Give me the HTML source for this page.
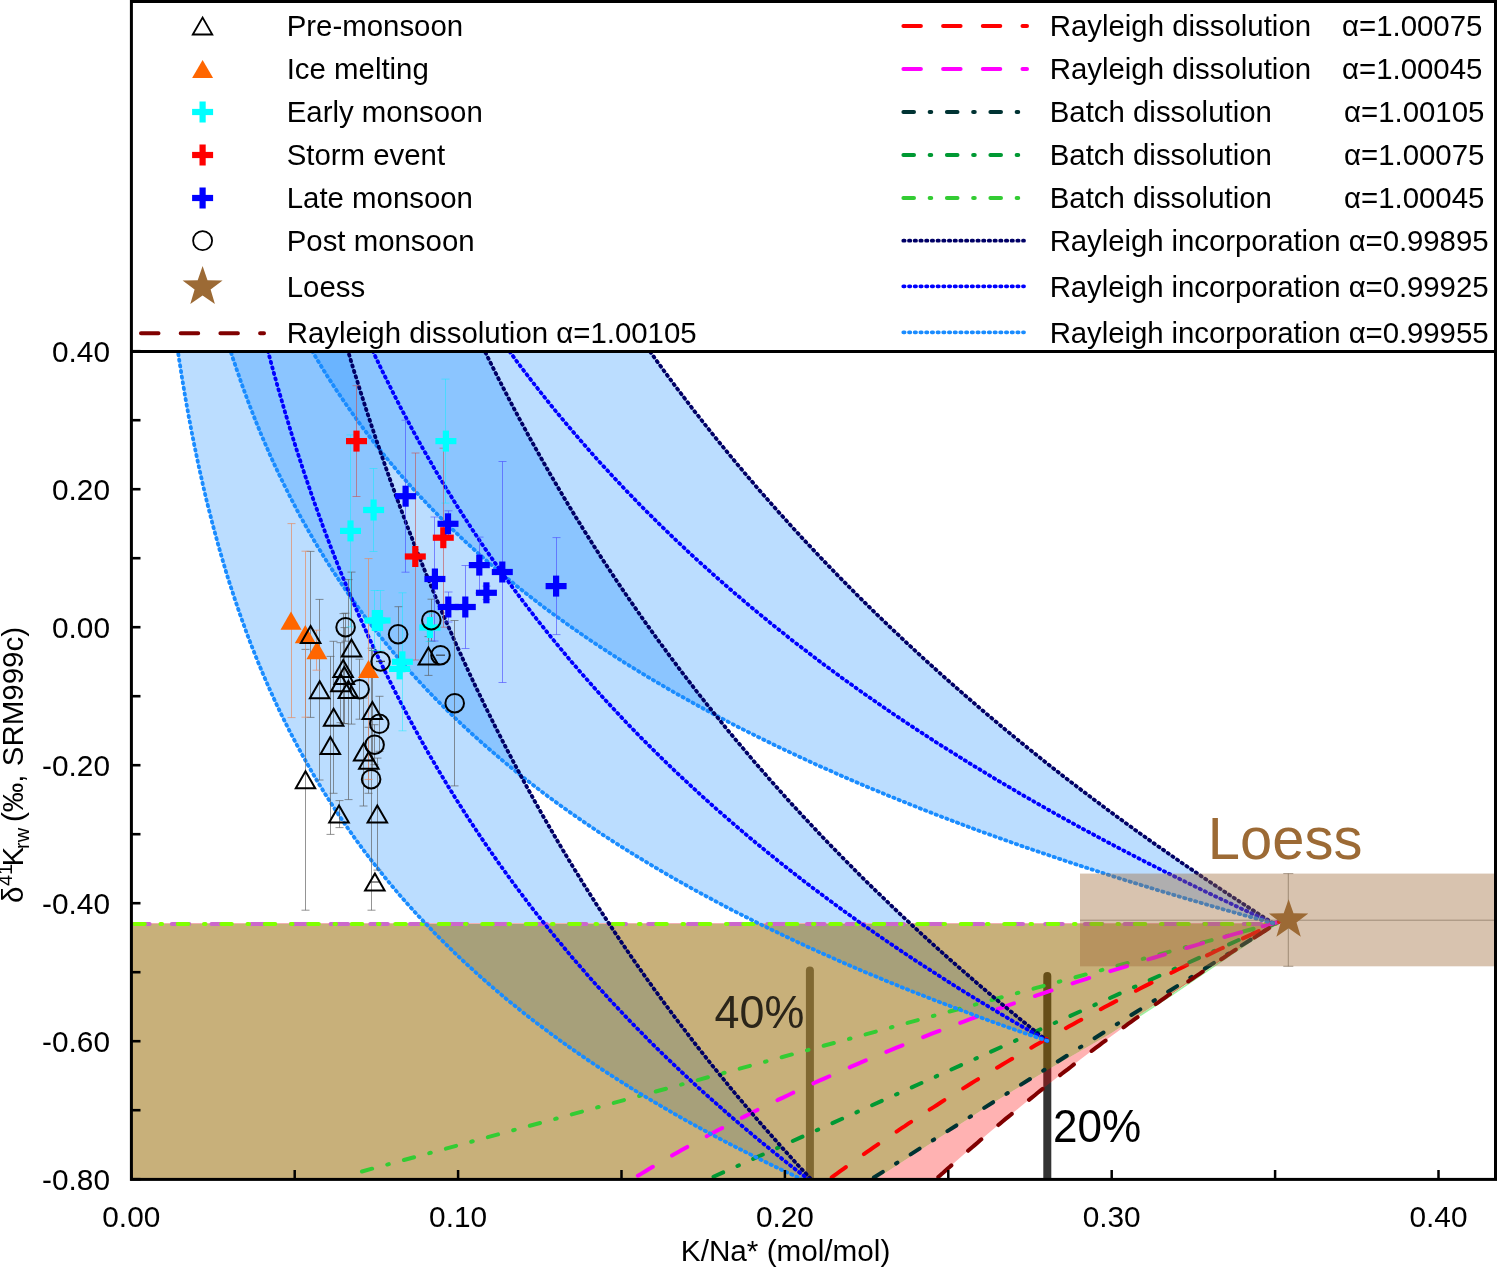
<!DOCTYPE html>
<html><head><meta charset="utf-8"><style>
html,body{margin:0;padding:0;background:#fff;}
body{width:1498px;height:1268px;overflow:hidden;position:relative;font-family:"Liberation Sans",sans-serif;}
svg{position:absolute;left:0;top:0;will-change:transform;}
</style></head><body>
<svg width="1498" height="1268" viewBox="0 0 1498 1268" font-family="Liberation Sans, sans-serif">
<defs><clipPath id="pc"><rect x="131.4" y="351.5" width="1364.1" height="827.9000000000001"/></clipPath></defs>
<rect width="1498" height="1268" fill="#fff"/>
<g clip-path="url(#pc)">
<path d="M1273.1,923.2 L1267.0,919.3 L1261.0,915.5 L1255.0,911.6 L1249.0,907.7 L1243.0,903.8 L1237.1,899.9 L1231.2,896.1 L1225.3,892.2 L1219.5,888.3 L1213.6,884.4 L1207.9,880.6 L1202.1,876.7 L1196.4,872.8 L1190.7,868.9 L1185.1,865.1 L1179.4,861.2 L1173.9,857.3 L1168.3,853.4 L1162.8,849.5 L1157.2,845.7 L1151.8,841.8 L1146.3,837.9 L1140.9,834.0 L1135.5,830.2 L1130.2,826.3 L1124.8,822.4 L1119.5,818.5 L1114.3,814.7 L1109.0,810.8 L1103.8,806.9 L1098.6,803.0 L1093.4,799.1 L1088.3,795.3 L1083.2,791.4 L1078.1,787.5 L1073.1,783.6 L1068.0,779.8 L1063.0,775.9 L1058.1,772.0 L1053.1,768.1 L1048.2,764.3 L1043.3,760.4 L1038.4,756.5 L1033.6,752.6 L1028.8,748.7 L1024.0,744.9 L1019.2,741.0 L1014.5,737.1 L1009.8,733.2 L1005.1,729.4 L1000.4,725.5 L995.8,721.6 L991.2,717.7 L986.6,713.9 L982.0,710.0 L977.5,706.1 L973.0,702.2 L968.5,698.3 L964.0,694.5 L959.6,690.6 L955.1,686.7 L950.7,682.8 L946.4,679.0 L942.0,675.1 L937.7,671.2 L933.4,667.3 L929.1,663.5 L924.8,659.6 L920.6,655.7 L916.4,651.8 L912.2,647.9 L908.0,644.1 L903.9,640.2 L899.8,636.3 L895.7,632.4 L891.6,628.6 L887.5,624.7 L883.5,620.8 L879.5,616.9 L875.5,613.1 L871.5,609.2 L867.6,605.3 L863.6,601.4 L859.7,597.5 L855.8,593.7 L852.0,589.8 L848.1,585.9 L844.3,582.0 L840.5,578.2 L836.7,574.3 L833.0,570.4 L829.2,566.5 L825.5,562.7 L821.8,558.8 L818.1,554.9 L814.4,551.0 L810.8,547.1 L807.2,543.3 L803.5,539.4 L800.0,535.5 L796.4,531.6 L792.8,527.8 L789.3,523.9 L785.8,520.0 L782.3,516.1 L778.8,512.3 L775.4,508.4 L771.9,504.5 L768.5,500.6 L765.1,496.7 L761.7,492.9 L758.4,489.0 L755.0,485.1 L751.7,481.2 L748.4,477.4 L745.1,473.5 L741.8,469.6 L738.6,465.7 L735.3,461.9 L732.1,458.0 L728.9,454.1 L725.7,450.2 L722.5,446.3 L719.4,442.5 L716.2,438.6 L713.1,434.7 L710.0,430.8 L706.9,427.0 L703.8,423.1 L700.8,419.2 L697.8,415.3 L694.7,411.5 L691.7,407.6 L688.7,403.7 L685.8,399.8 L682.8,395.9 L679.9,392.1 L676.9,388.2 L674.0,384.3 L671.1,380.4 L668.2,376.6 L665.4,372.7 L662.5,368.8 L659.7,364.9 L656.9,361.1 L654.1,357.2 L651.3,353.3 L648.5,349.4 L645.7,345.5 L643.0,341.7 L640.3,337.8 L637.5,333.9 L634.8,330.0 L632.2,326.2 L629.5,322.3 L626.8,318.4 L624.2,314.5 L621.5,310.7 L618.9,306.8 L616.3,302.9 L286.2,302.9 L288.1,306.8 L290.1,310.7 L292.1,314.5 L294.1,318.4 L296.2,322.3 L298.2,326.2 L300.3,330.0 L302.4,333.9 L304.6,337.8 L306.8,341.7 L309.0,345.5 L311.2,349.4 L313.5,353.3 L315.8,357.2 L318.1,361.1 L320.4,364.9 L322.8,368.8 L325.2,372.7 L327.6,376.6 L330.1,380.4 L332.6,384.3 L335.1,388.2 L337.7,392.1 L340.3,395.9 L342.9,399.8 L345.6,403.7 L348.3,407.6 L351.0,411.5 L353.8,415.3 L356.5,419.2 L359.4,423.1 L362.2,427.0 L365.1,430.8 L368.1,434.7 L371.1,438.6 L374.1,442.5 L377.1,446.3 L380.2,450.2 L383.3,454.1 L386.5,458.0 L389.7,461.9 L393.0,465.7 L396.2,469.6 L399.6,473.5 L402.9,477.4 L406.4,481.2 L409.8,485.1 L413.3,489.0 L416.9,492.9 L420.4,496.7 L424.1,500.6 L427.8,504.5 L431.5,508.4 L435.3,512.3 L439.1,516.1 L442.9,520.0 L446.9,523.9 L450.8,527.8 L454.8,531.6 L458.9,535.5 L463.0,539.4 L467.2,543.3 L471.4,547.1 L475.7,551.0 L480.0,554.9 L484.4,558.8 L488.8,562.7 L493.3,566.5 L497.9,570.4 L502.5,574.3 L507.1,578.2 L511.9,582.0 L516.6,585.9 L521.5,589.8 L526.4,593.7 L531.3,597.5 L536.4,601.4 L541.5,605.3 L546.6,609.2 L551.8,613.1 L557.1,616.9 L562.5,620.8 L567.9,624.7 L573.4,628.6 L578.9,632.4 L584.5,636.3 L590.2,640.2 L596.0,644.1 L601.8,647.9 L607.8,651.8 L613.7,655.7 L619.8,659.6 L625.9,663.5 L632.2,667.3 L638.4,671.2 L644.8,675.1 L651.3,679.0 L657.8,682.8 L664.4,686.7 L671.1,690.6 L677.9,694.5 L684.8,698.3 L691.7,702.2 L698.8,706.1 L705.9,710.0 L713.1,713.9 L720.4,717.7 L727.8,721.6 L735.3,725.5 L742.9,729.4 L750.6,733.2 L758.4,737.1 L766.3,741.0 L774.2,744.9 L782.3,748.7 L790.5,752.6 L798.8,756.5 L807.2,760.4 L815.6,764.3 L824.2,768.1 L833.0,772.0 L841.8,775.9 L850.7,779.8 L859.7,783.6 L868.9,787.5 L878.2,791.4 L887.5,795.3 L897.0,799.1 L906.7,803.0 L916.4,806.9 L926.3,810.8 L936.3,814.7 L946.4,818.5 L956.6,822.4 L967.0,826.3 L977.5,830.2 L988.1,834.0 L998.9,837.9 L1009.8,841.8 L1020.8,845.7 L1032.0,849.5 L1043.3,853.4 L1054.8,857.3 L1066.4,861.2 L1078.1,865.1 L1090.0,868.9 L1102.1,872.8 L1114.3,876.7 L1126.6,880.6 L1139.1,884.4 L1151.8,888.3 L1164.6,892.2 L1177.6,896.1 L1190.7,899.9 L1204.0,903.8 L1217.5,907.7 L1231.2,911.6 L1245.0,915.5 L1259.0,919.3 L1273.1,923.2 Z" fill="rgba(30,144,255,0.30)"/>
<path d="M1047.3,1040.9 L1041.5,1036.3 L1035.7,1031.7 L1030.0,1027.1 L1024.3,1022.5 L1018.6,1017.9 L1013.0,1013.2 L1007.4,1008.6 L1001.8,1004.0 L996.3,999.4 L990.8,994.8 L985.4,990.2 L979.9,985.6 L974.6,981.0 L969.2,976.3 L963.9,971.7 L958.6,967.1 L953.4,962.5 L948.1,957.9 L943.0,953.3 L937.8,948.7 L932.7,944.1 L927.6,939.4 L922.5,934.8 L917.5,930.2 L912.5,925.6 L907.6,921.0 L902.6,916.4 L897.8,911.8 L892.9,907.2 L888.1,902.5 L883.3,897.9 L878.5,893.3 L873.7,888.7 L869.0,884.1 L864.3,879.5 L859.7,874.9 L855.1,870.3 L850.5,865.6 L845.9,861.0 L841.4,856.4 L836.9,851.8 L832.4,847.2 L827.9,842.6 L823.5,838.0 L819.1,833.4 L814.8,828.7 L810.4,824.1 L806.1,819.5 L801.8,814.9 L797.6,810.3 L793.3,805.7 L789.1,801.1 L785.0,796.5 L780.8,791.8 L776.7,787.2 L772.6,782.6 L768.5,778.0 L764.5,773.4 L760.5,768.8 L756.5,764.2 L752.5,759.6 L748.6,754.9 L744.7,750.3 L740.8,745.7 L736.9,741.1 L733.0,736.5 L729.2,731.9 L725.4,727.3 L721.7,722.7 L717.9,718.0 L714.2,713.4 L710.5,708.8 L706.8,704.2 L703.2,699.6 L699.5,695.0 L695.9,690.4 L692.3,685.7 L688.8,681.1 L685.2,676.5 L681.7,671.9 L678.2,667.3 L674.8,662.7 L671.3,658.1 L667.9,653.5 L664.5,648.8 L661.1,644.2 L657.7,639.6 L654.4,635.0 L651.1,630.4 L647.8,625.8 L644.5,621.2 L641.2,616.6 L638.0,611.9 L634.8,607.3 L631.6,602.7 L628.4,598.1 L625.3,593.5 L622.1,588.9 L619.0,584.3 L615.9,579.7 L612.8,575.0 L609.8,570.4 L606.8,565.8 L603.7,561.2 L600.7,556.6 L597.8,552.0 L594.8,547.4 L591.9,542.8 L588.9,538.1 L586.0,533.5 L583.1,528.9 L580.3,524.3 L577.4,519.7 L574.6,515.1 L571.8,510.5 L569.0,505.9 L566.2,501.2 L563.4,496.6 L560.7,492.0 L558.0,487.4 L555.3,482.8 L552.6,478.2 L549.9,473.6 L547.3,469.0 L544.6,464.3 L542.0,459.7 L539.4,455.1 L536.8,450.5 L534.2,445.9 L531.7,441.3 L529.1,436.7 L526.6,432.1 L524.1,427.4 L521.6,422.8 L519.1,418.2 L516.7,413.6 L514.2,409.0 L511.8,404.4 L509.4,399.8 L507.0,395.2 L504.6,390.5 L502.2,385.9 L499.9,381.3 L497.5,376.7 L495.2,372.1 L492.9,367.5 L490.6,362.9 L488.3,358.3 L486.0,353.6 L483.8,349.0 L481.6,344.4 L479.3,339.8 L477.1,335.2 L474.9,330.6 L472.8,326.0 L470.6,321.4 L468.4,316.7 L466.3,312.1 L464.2,307.5 L462.1,302.9 L216.3,302.9 L217.6,307.5 L218.9,312.1 L220.2,316.7 L221.5,321.4 L222.9,326.0 L224.3,330.6 L225.7,335.2 L227.1,339.8 L228.5,344.4 L230.0,349.0 L231.4,353.6 L232.9,358.3 L234.5,362.9 L236.0,367.5 L237.6,372.1 L239.2,376.7 L240.8,381.3 L242.4,385.9 L244.1,390.5 L245.8,395.2 L247.5,399.8 L249.2,404.4 L251.0,409.0 L252.8,413.6 L254.6,418.2 L256.4,422.8 L258.3,427.4 L260.2,432.1 L262.1,436.7 L264.1,441.3 L266.1,445.9 L268.1,450.5 L270.1,455.1 L272.2,459.7 L274.3,464.3 L276.5,469.0 L278.6,473.6 L280.9,478.2 L283.1,482.8 L285.4,487.4 L287.7,492.0 L290.0,496.6 L292.4,501.2 L294.8,505.9 L297.2,510.5 L299.7,515.1 L302.2,519.7 L304.8,524.3 L307.4,528.9 L310.0,533.5 L312.7,538.1 L315.4,542.8 L318.2,547.4 L321.0,552.0 L323.8,556.6 L326.7,561.2 L329.6,565.8 L332.6,570.4 L335.6,575.0 L338.7,579.7 L341.8,584.3 L344.9,588.9 L348.1,593.5 L351.4,598.1 L354.7,602.7 L358.0,607.3 L361.4,611.9 L364.8,616.6 L368.3,621.2 L371.9,625.8 L375.5,630.4 L379.1,635.0 L382.8,639.6 L386.6,644.2 L390.4,648.8 L394.3,653.5 L398.2,658.1 L402.2,662.7 L406.3,667.3 L410.4,671.9 L414.6,676.5 L418.8,681.1 L423.1,685.7 L427.5,690.4 L431.9,695.0 L436.4,699.6 L441.0,704.2 L445.6,708.8 L450.3,713.4 L455.1,718.0 L460.0,722.7 L464.9,727.3 L469.9,731.9 L474.9,736.5 L480.1,741.1 L485.3,745.7 L490.6,750.3 L496.0,754.9 L501.4,759.6 L507.0,764.2 L512.6,768.8 L518.3,773.4 L524.1,778.0 L530.0,782.6 L535.9,787.2 L542.0,791.8 L548.1,796.5 L554.4,801.1 L560.7,805.7 L567.1,810.3 L573.7,814.9 L580.3,819.5 L587.0,824.1 L593.8,828.7 L600.7,833.4 L607.8,838.0 L614.9,842.6 L622.1,847.2 L629.5,851.8 L636.9,856.4 L644.5,861.0 L652.2,865.6 L660.0,870.3 L667.9,874.9 L675.9,879.5 L684.1,884.1 L692.3,888.7 L700.7,893.3 L709.3,897.9 L717.9,902.5 L726.7,907.2 L735.6,911.8 L744.7,916.4 L753.8,921.0 L763.1,925.6 L772.6,930.2 L782.2,934.8 L791.9,939.4 L801.8,944.1 L811.9,948.7 L822.1,953.3 L832.4,957.9 L842.9,962.5 L853.5,967.1 L864.3,971.7 L875.3,976.3 L886.5,981.0 L897.8,985.6 L909.2,990.2 L920.9,994.8 L932.7,999.4 L944.7,1004.0 L956.8,1008.6 L969.2,1013.2 L981.7,1017.9 L994.5,1022.5 L1007.4,1027.1 L1020.5,1031.7 L1033.8,1036.3 L1047.3,1040.9 Z" fill="rgba(30,144,255,0.30)"/>
<path d="M818.2,1186.8 L813.0,1181.3 L807.8,1175.7 L802.7,1170.2 L797.6,1164.7 L792.5,1159.2 L787.5,1153.6 L782.5,1148.1 L777.6,1142.6 L772.7,1137.1 L767.8,1131.5 L763.0,1126.0 L758.2,1120.5 L753.4,1115.0 L748.7,1109.4 L744.0,1103.9 L739.3,1098.4 L734.7,1092.9 L730.1,1087.4 L725.6,1081.8 L721.1,1076.3 L716.6,1070.8 L712.1,1065.3 L707.7,1059.7 L703.4,1054.2 L699.0,1048.7 L694.7,1043.2 L690.4,1037.6 L686.2,1032.1 L682.0,1026.6 L677.8,1021.1 L673.6,1015.5 L669.5,1010.0 L665.4,1004.5 L661.4,999.0 L657.3,993.4 L653.3,987.9 L649.4,982.4 L645.4,976.9 L641.5,971.3 L637.7,965.8 L633.8,960.3 L630.0,954.8 L626.2,949.2 L622.4,943.7 L618.7,938.2 L615.0,932.7 L611.3,927.1 L607.7,921.6 L604.1,916.1 L600.5,910.6 L596.9,905.1 L593.4,899.5 L589.9,894.0 L586.4,888.5 L582.9,883.0 L579.5,877.4 L576.1,871.9 L572.7,866.4 L569.4,860.9 L566.0,855.3 L562.7,849.8 L559.5,844.3 L556.2,838.8 L553.0,833.2 L549.8,827.7 L546.6,822.2 L543.4,816.7 L540.3,811.1 L537.2,805.6 L534.1,800.1 L531.1,794.6 L528.0,789.0 L525.0,783.5 L522.0,778.0 L519.1,772.5 L516.1,766.9 L513.2,761.4 L510.3,755.9 L507.4,750.4 L504.5,744.8 L501.7,739.3 L498.9,733.8 L496.1,728.3 L493.3,722.7 L490.6,717.2 L487.9,711.7 L485.1,706.2 L482.5,700.7 L479.8,695.1 L477.1,689.6 L474.5,684.1 L471.9,678.6 L469.3,673.0 L466.8,667.5 L464.2,662.0 L461.7,656.5 L459.2,650.9 L456.7,645.4 L454.2,639.9 L451.8,634.4 L449.3,628.8 L446.9,623.3 L444.5,617.8 L442.1,612.3 L439.8,606.7 L437.4,601.2 L435.1,595.7 L432.8,590.2 L430.5,584.6 L428.2,579.1 L426.0,573.6 L423.7,568.1 L421.5,562.5 L419.3,557.0 L417.1,551.5 L414.9,546.0 L412.8,540.4 L410.7,534.9 L408.5,529.4 L406.4,523.9 L404.3,518.3 L402.3,512.8 L400.2,507.3 L398.2,501.8 L396.1,496.3 L394.1,490.7 L392.1,485.2 L390.1,479.7 L388.2,474.2 L386.2,468.6 L384.3,463.1 L382.4,457.6 L380.5,452.1 L378.6,446.5 L376.7,441.0 L374.8,435.5 L373.0,430.0 L371.1,424.4 L369.3,418.9 L367.5,413.4 L365.7,407.9 L363.9,402.3 L362.2,396.8 L360.4,391.3 L358.7,385.8 L357.0,380.2 L355.2,374.7 L353.5,369.2 L351.8,363.7 L350.2,358.1 L348.5,352.6 L346.9,347.1 L345.2,341.6 L343.6,336.0 L342.0,330.5 L340.4,325.0 L338.8,319.5 L337.2,313.9 L335.7,308.4 L334.1,302.9 L171.2,302.9 L171.9,308.4 L172.6,313.9 L173.4,319.5 L174.1,325.0 L174.9,330.5 L175.7,336.0 L176.5,341.6 L177.3,347.1 L178.1,352.6 L178.9,358.1 L179.8,363.7 L180.7,369.2 L181.5,374.7 L182.4,380.2 L183.4,385.8 L184.3,391.3 L185.2,396.8 L186.2,402.3 L187.2,407.9 L188.2,413.4 L189.2,418.9 L190.3,424.4 L191.3,430.0 L192.4,435.5 L193.5,441.0 L194.6,446.5 L195.8,452.1 L196.9,457.6 L198.1,463.1 L199.3,468.6 L200.5,474.2 L201.8,479.7 L203.0,485.2 L204.3,490.7 L205.6,496.3 L206.9,501.8 L208.3,507.3 L209.7,512.8 L211.1,518.3 L212.5,523.9 L214.0,529.4 L215.5,534.9 L217.0,540.4 L218.5,546.0 L220.1,551.5 L221.7,557.0 L223.3,562.5 L225.0,568.1 L226.6,573.6 L228.3,579.1 L230.1,584.6 L231.9,590.2 L233.7,595.7 L235.5,601.2 L237.4,606.7 L239.3,612.3 L241.2,617.8 L243.2,623.3 L245.2,628.8 L247.2,634.4 L249.3,639.9 L251.4,645.4 L253.6,650.9 L255.8,656.5 L258.0,662.0 L260.3,667.5 L262.6,673.0 L265.0,678.6 L267.4,684.1 L269.8,689.6 L272.3,695.1 L274.8,700.7 L277.4,706.2 L280.0,711.7 L282.7,717.2 L285.4,722.7 L288.2,728.3 L291.0,733.8 L293.9,739.3 L296.8,744.8 L299.8,750.4 L302.8,755.9 L305.9,761.4 L309.0,766.9 L312.2,772.5 L315.4,778.0 L318.7,783.5 L322.1,789.0 L325.5,794.6 L329.0,800.1 L332.6,805.6 L336.2,811.1 L339.9,816.7 L343.6,822.2 L347.4,827.7 L351.3,833.2 L355.2,838.8 L359.3,844.3 L363.3,849.8 L367.5,855.3 L371.8,860.9 L376.1,866.4 L380.5,871.9 L384.9,877.4 L389.5,883.0 L394.1,888.5 L398.8,894.0 L403.6,899.5 L408.5,905.1 L413.5,910.6 L418.6,916.1 L423.7,921.6 L429.0,927.1 L434.3,932.7 L439.8,938.2 L445.3,943.7 L450.9,949.2 L456.7,954.8 L462.5,960.3 L468.5,965.8 L474.5,971.3 L480.7,976.9 L486.9,982.4 L493.3,987.9 L499.8,993.4 L506.4,999.0 L513.2,1004.5 L520.0,1010.0 L527.0,1015.5 L534.1,1021.1 L541.4,1026.6 L548.7,1032.1 L556.2,1037.6 L563.8,1043.2 L571.6,1048.7 L579.5,1054.2 L587.5,1059.7 L595.7,1065.3 L604.1,1070.8 L612.6,1076.3 L621.2,1081.8 L630.0,1087.4 L638.9,1092.9 L648.1,1098.4 L657.3,1103.9 L666.8,1109.4 L676.4,1115.0 L686.2,1120.5 L696.1,1126.0 L706.3,1131.5 L716.6,1137.1 L727.1,1142.6 L737.8,1148.1 L748.7,1153.6 L759.8,1159.2 L771.0,1164.7 L782.5,1170.2 L794.2,1175.7 L806.1,1181.3 L818.2,1186.8 Z" fill="rgba(30,144,255,0.30)"/>
<line x1="809.9" y1="970.6" x2="809.9" y2="1190" stroke="#696969" stroke-width="8" stroke-linecap="round"/>
<line x1="1047.3" y1="976" x2="1047.3" y2="1190" stroke="#333333" stroke-width="8" stroke-linecap="round"/>
<path d="M129.4,923.6 L1279.0,923.6 L1277.0,922.5 L1170.8,994.6 L1110.0,1034.0 L1050.0,1068.5 L990.0,1104.8 L878.7,1177.2 L866.0,1186.0 L129.4,1186.0 Z" fill="rgba(149,103,0,0.52)"/>
<path d="M1277.0,922.5 L1170.8,994.6 L1110.0,1034.0 L1050.0,1068.5 L990.0,1104.8 L878.7,1177.2 L866.0,1186.0 L905.8,1206.8 L910.9,1202.1 L916.0,1197.3 L921.2,1192.6 L926.4,1187.8 L931.6,1183.1 L936.9,1178.3 L942.2,1173.6 L947.5,1168.8 L952.9,1164.1 L958.3,1159.3 L963.7,1154.6 L969.2,1149.8 L974.7,1145.1 L980.2,1140.3 L985.8,1135.6 L991.4,1130.8 L997.1,1126.1 L1002.8,1121.3 L1008.5,1116.6 L1014.3,1111.8 L1020.1,1107.1 L1025.9,1102.3 L1031.8,1097.6 L1037.7,1092.8 L1043.7,1088.1 L1049.7,1083.3 L1055.8,1078.6 L1061.8,1073.8 L1068.0,1069.1 L1074.1,1064.3 L1080.3,1059.6 L1086.6,1054.8 L1092.8,1050.1 L1099.2,1045.3 L1105.5,1040.6 L1111.9,1035.8 L1118.4,1031.1 L1124.9,1026.3 L1131.4,1021.6 L1138.0,1016.8 L1144.6,1012.1 L1151.3,1007.3 L1158.0,1002.6 L1164.7,997.8 L1171.5,993.1 L1178.4,988.3 L1185.3,983.6 L1192.2,978.8 L1199.2,974.1 L1206.2,969.3 L1213.3,964.6 L1220.4,959.8 L1227.5,955.1 L1234.8,950.3 L1242.0,945.6 L1249.3,940.8 L1256.7,936.1 L1264.1,931.3 L1271.5,926.6 L1279.0,921.8 Z" fill="rgba(255,0,0,0.3)"/>
<line x1="131.4" y1="923.5" x2="1279.0" y2="923.5" stroke="#f0b0b0" stroke-width="1"/>
<path d="M131.4,924.0 L1279.0,924.0" fill="none" stroke="#cc66cc" stroke-width="4" stroke-dasharray="17.5 22.2" stroke-linecap="round" stroke-dashoffset="39.00"/>
<path d="M131.4,924.0 L1279.0,924.0" fill="none" stroke="#80ff00" stroke-width="4" stroke-dasharray="10.6 15.65 1.6 15.65" stroke-linecap="round" stroke-dashoffset="40.70"/>
<path d="M1277,923.5 L1170.8,995.6 L1140,1015.5" fill="none" stroke="#a0f0a0" stroke-width="1.6"/>
<path d="M360.0,1172.0 L1279.0,921.8" fill="none" stroke="#33cc33" stroke-width="4" stroke-dasharray="10.6 15.65 1.6 15.65" stroke-linecap="round" stroke-dashoffset="41.50"/>
<path d="M360.8,1335.8 L1279.0,921.8" fill="none" stroke="#009933" stroke-width="4" stroke-dasharray="10.6 15.65 1.6 15.65" stroke-linecap="round" stroke-dashoffset="4.62"/>
<path d="M360.8,1501.4 L1279.0,921.8" fill="none" stroke="#003333" stroke-width="4" stroke-dasharray="10.6 15.65 1.6 15.65" stroke-linecap="round" stroke-dashoffset="2.28"/>
<path d="M589.7,1206.8 L593.2,1204.4 L596.8,1202.1 L600.3,1199.7 L603.9,1197.3 L607.6,1194.9 L611.2,1192.6 L614.9,1190.2 L618.6,1187.8 L622.4,1185.4 L626.1,1183.1 L629.9,1180.7 L633.8,1178.3 L637.6,1175.9 L641.5,1173.6 L645.4,1171.2 L649.4,1168.8 L653.4,1166.4 L657.4,1164.1 L661.4,1161.7 L665.5,1159.3 L669.6,1156.9 L673.7,1154.6 L677.9,1152.2 L682.1,1149.8 L686.3,1147.4 L690.6,1145.1 L694.9,1142.7 L699.2,1140.3 L703.5,1137.9 L707.9,1135.6 L712.4,1133.2 L716.8,1130.8 L721.3,1128.4 L725.8,1126.1 L730.4,1123.7 L735.0,1121.3 L739.6,1118.9 L744.3,1116.6 L749.0,1114.2 L753.8,1111.8 L758.5,1109.4 L763.4,1107.1 L768.2,1104.7 L773.1,1102.3 L778.0,1099.9 L783.0,1097.6 L788.0,1095.2 L793.0,1092.8 L798.1,1090.4 L803.2,1088.1 L808.4,1085.7 L813.6,1083.3 L818.8,1080.9 L824.1,1078.6 L829.4,1076.2 L834.8,1073.8 L840.2,1071.4 L845.6,1069.1 L851.1,1066.7 L856.6,1064.3 L862.2,1061.9 L867.8,1059.6 L873.5,1057.2 L879.2,1054.8 L884.9,1052.4 L890.7,1050.1 L896.5,1047.7 L902.4,1045.3 L908.3,1042.9 L914.3,1040.6 L920.3,1038.2 L926.4,1035.8 L932.5,1033.4 L938.6,1031.1 L944.8,1028.7 L951.1,1026.3 L957.4,1023.9 L963.7,1021.6 L970.1,1019.2 L976.5,1016.8 L983.0,1014.4 L989.6,1012.1 L996.1,1009.7 L1002.8,1007.3 L1009.5,1004.9 L1016.2,1002.6 L1023.0,1000.2 L1029.9,997.8 L1036.8,995.4 L1043.7,993.1 L1050.7,990.7 L1057.8,988.3 L1064.9,985.9 L1072.1,983.6 L1079.3,981.2 L1086.6,978.8 L1093.9,976.4 L1101.3,974.1 L1108.7,971.7 L1116.2,969.3 L1123.8,967.0 L1131.4,964.6 L1139.1,962.2 L1146.8,959.8 L1154.6,957.5 L1162.5,955.1 L1170.4,952.7 L1178.4,950.3 L1186.4,948.0 L1194.5,945.6 L1202.7,943.2 L1210.9,940.8 L1219.2,938.5 L1227.5,936.1 L1236.0,933.7 L1244.4,931.3 L1253.0,929.0 L1261.6,926.6 L1270.3,924.2 L1279.0,921.8" fill="none" stroke="#ff00ff" stroke-width="4" stroke-dasharray="17.5 22.2" stroke-linecap="round" stroke-dashoffset="22.10"/>
<path d="M793.0,1206.8 L796.1,1204.4 L799.1,1202.1 L802.2,1199.7 L805.3,1197.3 L808.4,1194.9 L811.5,1192.6 L814.6,1190.2 L817.8,1187.8 L820.9,1185.4 L824.1,1183.1 L827.3,1180.7 L830.5,1178.3 L833.7,1175.9 L836.9,1173.6 L840.2,1171.2 L843.5,1168.8 L846.7,1166.4 L850.0,1164.1 L853.3,1161.7 L856.6,1159.3 L860.0,1156.9 L863.3,1154.6 L866.7,1152.2 L870.1,1149.8 L873.5,1147.4 L876.9,1145.1 L880.3,1142.7 L883.8,1140.3 L887.2,1137.9 L890.7,1135.6 L894.2,1133.2 L897.7,1130.8 L901.2,1128.4 L904.8,1126.1 L908.3,1123.7 L911.9,1121.3 L915.5,1118.9 L919.1,1116.6 L922.7,1114.2 L926.4,1111.8 L930.0,1109.4 L933.7,1107.1 L937.4,1104.7 L941.1,1102.3 L944.8,1099.9 L948.6,1097.6 L952.3,1095.2 L956.1,1092.8 L959.9,1090.4 L963.7,1088.1 L967.5,1085.7 L971.4,1083.3 L975.2,1080.9 L979.1,1078.6 L983.0,1076.2 L986.9,1073.8 L990.9,1071.4 L994.8,1069.1 L998.8,1066.7 L1002.8,1064.3 L1006.8,1061.9 L1010.8,1059.6 L1014.9,1057.2 L1018.9,1054.8 L1023.0,1052.4 L1027.1,1050.1 L1031.2,1047.7 L1035.4,1045.3 L1039.5,1042.9 L1043.7,1040.6 L1047.9,1038.2 L1052.1,1035.8 L1056.4,1033.4 L1060.6,1031.1 L1064.9,1028.7 L1069.2,1026.3 L1073.5,1023.9 L1077.8,1021.6 L1082.2,1019.2 L1086.6,1016.8 L1090.9,1014.4 L1095.4,1012.1 L1099.8,1009.7 L1104.3,1007.3 L1108.7,1004.9 L1113.2,1002.6 L1117.7,1000.2 L1122.3,997.8 L1126.8,995.4 L1131.4,993.1 L1136.0,990.7 L1140.6,988.3 L1145.3,985.9 L1149.9,983.6 L1154.6,981.2 L1159.3,978.8 L1164.1,976.4 L1168.8,974.1 L1173.6,971.7 L1178.4,969.3 L1183.2,967.0 L1188.0,964.6 L1192.9,962.2 L1197.8,959.8 L1202.7,957.5 L1207.6,955.1 L1212.6,952.7 L1217.5,950.3 L1222.5,948.0 L1227.5,945.6 L1232.6,943.2 L1237.7,940.8 L1242.7,938.5 L1247.9,936.1 L1253.0,933.7 L1258.1,931.3 L1263.3,929.0 L1268.5,926.6 L1273.8,924.2 L1279.0,921.8" fill="none" stroke="#ff0000" stroke-width="4" stroke-dasharray="17.5 22.2" stroke-linecap="round" stroke-dashoffset="30.78"/>
<path d="M905.8,1206.8 L908.3,1204.4 L910.9,1202.1 L913.4,1199.7 L916.0,1197.3 L918.6,1194.9 L921.2,1192.6 L923.8,1190.2 L926.4,1187.8 L929.0,1185.4 L931.6,1183.1 L934.2,1180.7 L936.9,1178.3 L939.5,1175.9 L942.2,1173.6 L944.8,1171.2 L947.5,1168.8 L950.2,1166.4 L952.9,1164.1 L955.6,1161.7 L958.3,1159.3 L961.0,1156.9 L963.7,1154.6 L966.4,1152.2 L969.2,1149.8 L971.9,1147.4 L974.7,1145.1 L977.5,1142.7 L980.2,1140.3 L983.0,1137.9 L985.8,1135.6 L988.6,1133.2 L991.4,1130.8 L994.3,1128.4 L997.1,1126.1 L999.9,1123.7 L1002.8,1121.3 L1005.6,1118.9 L1008.5,1116.6 L1011.4,1114.2 L1014.3,1111.8 L1017.2,1109.4 L1020.1,1107.1 L1023.0,1104.7 L1025.9,1102.3 L1028.9,1099.9 L1031.8,1097.6 L1034.8,1095.2 L1037.7,1092.8 L1040.7,1090.4 L1043.7,1088.1 L1046.7,1085.7 L1049.7,1083.3 L1052.7,1080.9 L1055.8,1078.6 L1058.8,1076.2 L1061.8,1073.8 L1064.9,1071.4 L1068.0,1069.1 L1071.0,1066.7 L1074.1,1064.3 L1077.2,1061.9 L1080.3,1059.6 L1083.4,1057.2 L1086.6,1054.8 L1089.7,1052.4 L1092.8,1050.1 L1096.0,1047.7 L1099.2,1045.3 L1102.3,1042.9 L1105.5,1040.6 L1108.7,1038.2 L1111.9,1035.8 L1115.2,1033.4 L1118.4,1031.1 L1121.6,1028.7 L1124.9,1026.3 L1128.1,1023.9 L1131.4,1021.6 L1134.7,1019.2 L1138.0,1016.8 L1141.3,1014.4 L1144.6,1012.1 L1147.9,1009.7 L1151.3,1007.3 L1154.6,1004.9 L1158.0,1002.6 L1161.4,1000.2 L1164.7,997.8 L1168.1,995.4 L1171.5,993.1 L1174.9,990.7 L1178.4,988.3 L1181.8,985.9 L1185.3,983.6 L1188.7,981.2 L1192.2,978.8 L1195.7,976.4 L1199.2,974.1 L1202.7,971.7 L1206.2,969.3 L1209.7,967.0 L1213.3,964.6 L1216.8,962.2 L1220.4,959.8 L1224.0,957.5 L1227.5,955.1 L1231.1,952.7 L1234.8,950.3 L1238.4,948.0 L1242.0,945.6 L1245.7,943.2 L1249.3,940.8 L1253.0,938.5 L1256.7,936.1 L1260.4,933.7 L1264.1,931.3 L1267.8,929.0 L1271.5,926.6 L1275.3,924.2 L1279.0,921.8" fill="none" stroke="#800000" stroke-width="4" stroke-dasharray="17.5 22.2" stroke-linecap="round" stroke-dashoffset="35.31"/>
<path d="M1273.1,923.2 L1267.0,919.3 L1261.0,915.5 L1255.0,911.6 L1249.0,907.7 L1243.0,903.8 L1237.1,899.9 L1231.2,896.1 L1225.3,892.2 L1219.5,888.3 L1213.6,884.4 L1207.9,880.6 L1202.1,876.7 L1196.4,872.8 L1190.7,868.9 L1185.1,865.1 L1179.4,861.2 L1173.9,857.3 L1168.3,853.4 L1162.8,849.5 L1157.2,845.7 L1151.8,841.8 L1146.3,837.9 L1140.9,834.0 L1135.5,830.2 L1130.2,826.3 L1124.8,822.4 L1119.5,818.5 L1114.3,814.7 L1109.0,810.8 L1103.8,806.9 L1098.6,803.0 L1093.4,799.1 L1088.3,795.3 L1083.2,791.4 L1078.1,787.5 L1073.1,783.6 L1068.0,779.8 L1063.0,775.9 L1058.1,772.0 L1053.1,768.1 L1048.2,764.3 L1043.3,760.4 L1038.4,756.5 L1033.6,752.6 L1028.8,748.7 L1024.0,744.9 L1019.2,741.0 L1014.5,737.1 L1009.8,733.2 L1005.1,729.4 L1000.4,725.5 L995.8,721.6 L991.2,717.7 L986.6,713.9 L982.0,710.0 L977.5,706.1 L973.0,702.2 L968.5,698.3 L964.0,694.5 L959.6,690.6 L955.1,686.7 L950.7,682.8 L946.4,679.0 L942.0,675.1 L937.7,671.2 L933.4,667.3 L929.1,663.5 L924.8,659.6 L920.6,655.7 L916.4,651.8 L912.2,647.9 L908.0,644.1 L903.9,640.2 L899.8,636.3 L895.7,632.4 L891.6,628.6 L887.5,624.7 L883.5,620.8 L879.5,616.9 L875.5,613.1 L871.5,609.2 L867.6,605.3 L863.6,601.4 L859.7,597.5 L855.8,593.7 L852.0,589.8 L848.1,585.9 L844.3,582.0 L840.5,578.2 L836.7,574.3 L833.0,570.4 L829.2,566.5 L825.5,562.7 L821.8,558.8 L818.1,554.9 L814.4,551.0 L810.8,547.1 L807.2,543.3 L803.5,539.4 L800.0,535.5 L796.4,531.6 L792.8,527.8 L789.3,523.9 L785.8,520.0 L782.3,516.1 L778.8,512.3 L775.4,508.4 L771.9,504.5 L768.5,500.6 L765.1,496.7 L761.7,492.9 L758.4,489.0 L755.0,485.1 L751.7,481.2 L748.4,477.4 L745.1,473.5 L741.8,469.6 L738.6,465.7 L735.3,461.9 L732.1,458.0 L728.9,454.1 L725.7,450.2 L722.5,446.3 L719.4,442.5 L716.2,438.6 L713.1,434.7 L710.0,430.8 L706.9,427.0 L703.8,423.1 L700.8,419.2 L697.8,415.3 L694.7,411.5 L691.7,407.6 L688.7,403.7 L685.8,399.8 L682.8,395.9 L679.9,392.1 L676.9,388.2 L674.0,384.3 L671.1,380.4 L668.2,376.6 L665.4,372.7 L662.5,368.8 L659.7,364.9 L656.9,361.1 L654.1,357.2 L651.3,353.3 L648.5,349.4 L645.7,345.5 L643.0,341.7 L640.3,337.8 L637.5,333.9 L634.8,330.0 L632.2,326.2 L629.5,322.3 L626.8,318.4 L624.2,314.5 L621.5,310.7 L618.9,306.8 L616.3,302.9" fill="none" stroke="#000066" stroke-width="3.8" stroke-dasharray="1.3 4.4" stroke-linecap="round"/>
<path d="M1273.1,923.2 L1264.6,919.3 L1256.2,915.5 L1247.8,911.6 L1239.4,907.7 L1231.2,903.8 L1222.9,899.9 L1214.8,896.1 L1206.7,892.2 L1198.7,888.3 L1190.7,884.4 L1182.8,880.6 L1175.0,876.7 L1167.2,872.8 L1159.4,868.9 L1151.8,865.1 L1144.2,861.2 L1136.6,857.3 L1129.1,853.4 L1121.6,849.5 L1114.3,845.7 L1106.9,841.8 L1099.6,837.9 L1092.4,834.0 L1085.2,830.2 L1078.1,826.3 L1071.0,822.4 L1064.0,818.5 L1057.1,814.7 L1050.2,810.8 L1043.3,806.9 L1036.5,803.0 L1029.7,799.1 L1023.0,795.3 L1016.4,791.4 L1009.8,787.5 L1003.2,783.6 L996.7,779.8 L990.3,775.9 L983.8,772.0 L977.5,768.1 L971.2,764.3 L964.9,760.4 L958.7,756.5 L952.5,752.6 L946.4,748.7 L940.3,744.9 L934.2,741.0 L928.3,737.1 L922.3,733.2 L916.4,729.4 L910.5,725.5 L904.7,721.6 L899.0,717.7 L893.2,713.9 L887.5,710.0 L881.9,706.1 L876.3,702.2 L870.7,698.3 L865.2,694.5 L859.7,690.6 L854.3,686.7 L848.9,682.8 L843.5,679.0 L838.2,675.1 L833.0,671.2 L827.7,667.3 L822.5,663.5 L817.4,659.6 L812.2,655.7 L807.2,651.8 L802.1,647.9 L797.1,644.1 L792.1,640.2 L787.2,636.3 L782.3,632.4 L777.4,628.6 L772.6,624.7 L767.8,620.8 L763.1,616.9 L758.4,613.1 L753.7,609.2 L749.0,605.3 L744.4,601.4 L739.9,597.5 L735.3,593.7 L730.8,589.8 L726.3,585.9 L721.9,582.0 L717.5,578.2 L713.1,574.3 L708.8,570.4 L704.5,566.5 L700.2,562.7 L695.9,558.8 L691.7,554.9 L687.5,551.0 L683.4,547.1 L679.3,543.3 L675.2,539.4 L671.1,535.5 L667.1,531.6 L663.1,527.8 L659.1,523.9 L655.2,520.0 L651.3,516.1 L647.4,512.3 L643.5,508.4 L639.7,504.5 L635.9,500.6 L632.2,496.7 L628.4,492.9 L624.7,489.0 L621.0,485.1 L617.4,481.2 L613.7,477.4 L610.1,473.5 L606.6,469.6 L603.0,465.7 L599.5,461.9 L596.0,458.0 L592.5,454.1 L589.1,450.2 L585.7,446.3 L582.3,442.5 L578.9,438.6 L575.6,434.7 L572.3,430.8 L569.0,427.0 L565.7,423.1 L562.5,419.2 L559.2,415.3 L556.0,411.5 L552.9,407.6 L549.7,403.7 L546.6,399.8 L543.5,395.9 L540.4,392.1 L537.4,388.2 L534.3,384.3 L531.3,380.4 L528.4,376.6 L525.4,372.7 L522.4,368.8 L519.5,364.9 L516.6,361.1 L513.8,357.2 L510.9,353.3 L508.1,349.4 L505.3,345.5 L502.5,341.7 L499.7,337.8 L496.9,333.9 L494.2,330.0 L491.5,326.2 L488.8,322.3 L486.2,318.4 L483.5,314.5 L480.9,310.7 L478.3,306.8 L475.7,302.9" fill="none" stroke="#0000ff" stroke-width="3.8" stroke-dasharray="1.3 4.4" stroke-linecap="round"/>
<path d="M1273.1,923.2 L1259.0,919.3 L1245.0,915.5 L1231.2,911.6 L1217.5,907.7 L1204.0,903.8 L1190.7,899.9 L1177.6,896.1 L1164.6,892.2 L1151.8,888.3 L1139.1,884.4 L1126.6,880.6 L1114.3,876.7 L1102.1,872.8 L1090.0,868.9 L1078.1,865.1 L1066.4,861.2 L1054.8,857.3 L1043.3,853.4 L1032.0,849.5 L1020.8,845.7 L1009.8,841.8 L998.9,837.9 L988.1,834.0 L977.5,830.2 L967.0,826.3 L956.6,822.4 L946.4,818.5 L936.3,814.7 L926.3,810.8 L916.4,806.9 L906.7,803.0 L897.0,799.1 L887.5,795.3 L878.2,791.4 L868.9,787.5 L859.7,783.6 L850.7,779.8 L841.8,775.9 L833.0,772.0 L824.2,768.1 L815.6,764.3 L807.2,760.4 L798.8,756.5 L790.5,752.6 L782.3,748.7 L774.2,744.9 L766.3,741.0 L758.4,737.1 L750.6,733.2 L742.9,729.4 L735.3,725.5 L727.8,721.6 L720.4,717.7 L713.1,713.9 L705.9,710.0 L698.8,706.1 L691.7,702.2 L684.8,698.3 L677.9,694.5 L671.1,690.6 L664.4,686.7 L657.8,682.8 L651.3,679.0 L644.8,675.1 L638.4,671.2 L632.2,667.3 L625.9,663.5 L619.8,659.6 L613.7,655.7 L607.8,651.8 L601.8,647.9 L596.0,644.1 L590.2,640.2 L584.5,636.3 L578.9,632.4 L573.4,628.6 L567.9,624.7 L562.5,620.8 L557.1,616.9 L551.8,613.1 L546.6,609.2 L541.5,605.3 L536.4,601.4 L531.3,597.5 L526.4,593.7 L521.5,589.8 L516.6,585.9 L511.9,582.0 L507.1,578.2 L502.5,574.3 L497.9,570.4 L493.3,566.5 L488.8,562.7 L484.4,558.8 L480.0,554.9 L475.7,551.0 L471.4,547.1 L467.2,543.3 L463.0,539.4 L458.9,535.5 L454.8,531.6 L450.8,527.8 L446.9,523.9 L442.9,520.0 L439.1,516.1 L435.3,512.3 L431.5,508.4 L427.8,504.5 L424.1,500.6 L420.4,496.7 L416.9,492.9 L413.3,489.0 L409.8,485.1 L406.4,481.2 L402.9,477.4 L399.6,473.5 L396.2,469.6 L393.0,465.7 L389.7,461.9 L386.5,458.0 L383.3,454.1 L380.2,450.2 L377.1,446.3 L374.1,442.5 L371.1,438.6 L368.1,434.7 L365.1,430.8 L362.2,427.0 L359.4,423.1 L356.5,419.2 L353.8,415.3 L351.0,411.5 L348.3,407.6 L345.6,403.7 L342.9,399.8 L340.3,395.9 L337.7,392.1 L335.1,388.2 L332.6,384.3 L330.1,380.4 L327.6,376.6 L325.2,372.7 L322.8,368.8 L320.4,364.9 L318.1,361.1 L315.8,357.2 L313.5,353.3 L311.2,349.4 L309.0,345.5 L306.8,341.7 L304.6,337.8 L302.4,333.9 L300.3,330.0 L298.2,326.2 L296.2,322.3 L294.1,318.4 L292.1,314.5 L290.1,310.7 L288.1,306.8 L286.2,302.9" fill="none" stroke="#1a8cff" stroke-width="3.8" stroke-dasharray="1.3 4.4" stroke-linecap="round"/>
<path d="M1047.3,1040.9 L1041.5,1036.3 L1035.7,1031.7 L1030.0,1027.1 L1024.3,1022.5 L1018.6,1017.9 L1013.0,1013.2 L1007.4,1008.6 L1001.8,1004.0 L996.3,999.4 L990.8,994.8 L985.4,990.2 L979.9,985.6 L974.6,981.0 L969.2,976.3 L963.9,971.7 L958.6,967.1 L953.4,962.5 L948.1,957.9 L943.0,953.3 L937.8,948.7 L932.7,944.1 L927.6,939.4 L922.5,934.8 L917.5,930.2 L912.5,925.6 L907.6,921.0 L902.6,916.4 L897.8,911.8 L892.9,907.2 L888.1,902.5 L883.3,897.9 L878.5,893.3 L873.7,888.7 L869.0,884.1 L864.3,879.5 L859.7,874.9 L855.1,870.3 L850.5,865.6 L845.9,861.0 L841.4,856.4 L836.9,851.8 L832.4,847.2 L827.9,842.6 L823.5,838.0 L819.1,833.4 L814.8,828.7 L810.4,824.1 L806.1,819.5 L801.8,814.9 L797.6,810.3 L793.3,805.7 L789.1,801.1 L785.0,796.5 L780.8,791.8 L776.7,787.2 L772.6,782.6 L768.5,778.0 L764.5,773.4 L760.5,768.8 L756.5,764.2 L752.5,759.6 L748.6,754.9 L744.7,750.3 L740.8,745.7 L736.9,741.1 L733.0,736.5 L729.2,731.9 L725.4,727.3 L721.7,722.7 L717.9,718.0 L714.2,713.4 L710.5,708.8 L706.8,704.2 L703.2,699.6 L699.5,695.0 L695.9,690.4 L692.3,685.7 L688.8,681.1 L685.2,676.5 L681.7,671.9 L678.2,667.3 L674.8,662.7 L671.3,658.1 L667.9,653.5 L664.5,648.8 L661.1,644.2 L657.7,639.6 L654.4,635.0 L651.1,630.4 L647.8,625.8 L644.5,621.2 L641.2,616.6 L638.0,611.9 L634.8,607.3 L631.6,602.7 L628.4,598.1 L625.3,593.5 L622.1,588.9 L619.0,584.3 L615.9,579.7 L612.8,575.0 L609.8,570.4 L606.8,565.8 L603.7,561.2 L600.7,556.6 L597.8,552.0 L594.8,547.4 L591.9,542.8 L588.9,538.1 L586.0,533.5 L583.1,528.9 L580.3,524.3 L577.4,519.7 L574.6,515.1 L571.8,510.5 L569.0,505.9 L566.2,501.2 L563.4,496.6 L560.7,492.0 L558.0,487.4 L555.3,482.8 L552.6,478.2 L549.9,473.6 L547.3,469.0 L544.6,464.3 L542.0,459.7 L539.4,455.1 L536.8,450.5 L534.2,445.9 L531.7,441.3 L529.1,436.7 L526.6,432.1 L524.1,427.4 L521.6,422.8 L519.1,418.2 L516.7,413.6 L514.2,409.0 L511.8,404.4 L509.4,399.8 L507.0,395.2 L504.6,390.5 L502.2,385.9 L499.9,381.3 L497.5,376.7 L495.2,372.1 L492.9,367.5 L490.6,362.9 L488.3,358.3 L486.0,353.6 L483.8,349.0 L481.6,344.4 L479.3,339.8 L477.1,335.2 L474.9,330.6 L472.8,326.0 L470.6,321.4 L468.4,316.7 L466.3,312.1 L464.2,307.5 L462.1,302.9" fill="none" stroke="#000066" stroke-width="3.8" stroke-dasharray="1.3 4.4" stroke-linecap="round"/>
<path d="M1047.3,1040.9 L1039.2,1036.3 L1031.1,1031.7 L1023.2,1027.1 L1015.2,1022.5 L1007.4,1017.9 L999.6,1013.2 L991.9,1008.6 L984.3,1004.0 L976.7,999.4 L969.2,994.8 L961.8,990.2 L954.4,985.6 L947.1,981.0 L939.9,976.3 L932.7,971.7 L925.6,967.1 L918.5,962.5 L911.5,957.9 L904.6,953.3 L897.8,948.7 L891.0,944.1 L884.2,939.4 L877.5,934.8 L870.9,930.2 L864.3,925.6 L857.8,921.0 L851.4,916.4 L845.0,911.8 L838.7,907.2 L832.4,902.5 L826.2,897.9 L820.0,893.3 L813.9,888.7 L807.8,884.1 L801.8,879.5 L795.9,874.9 L790.0,870.3 L784.1,865.6 L778.3,861.0 L772.6,856.4 L766.9,851.8 L761.3,847.2 L755.7,842.6 L750.1,838.0 L744.7,833.4 L739.2,828.7 L733.8,824.1 L728.5,819.5 L723.2,814.9 L717.9,810.3 L712.7,805.7 L707.6,801.1 L702.4,796.5 L697.4,791.8 L692.3,787.2 L687.4,782.6 L682.4,778.0 L677.5,773.4 L672.7,768.8 L667.9,764.2 L663.1,759.6 L658.4,754.9 L653.7,750.3 L649.1,745.7 L644.5,741.1 L639.9,736.5 L635.4,731.9 L631.0,727.3 L626.5,722.7 L622.1,718.0 L617.8,713.4 L613.5,708.8 L609.2,704.2 L604.9,699.6 L600.7,695.0 L596.6,690.4 L592.4,685.7 L588.4,681.1 L584.3,676.5 L580.3,671.9 L576.3,667.3 L572.3,662.7 L568.4,658.1 L564.6,653.5 L560.7,648.8 L556.9,644.2 L553.1,639.6 L549.4,635.0 L545.7,630.4 L542.0,625.8 L538.3,621.2 L534.7,616.6 L531.2,611.9 L527.6,607.3 L524.1,602.7 L520.6,598.1 L517.1,593.5 L513.7,588.9 L510.3,584.3 L507.0,579.7 L503.6,575.0 L500.3,570.4 L497.1,565.8 L493.8,561.2 L490.6,556.6 L487.4,552.0 L484.2,547.4 L481.1,542.8 L478.0,538.1 L474.9,533.5 L471.9,528.9 L468.9,524.3 L465.9,519.7 L462.9,515.1 L460.0,510.5 L457.0,505.9 L454.1,501.2 L451.3,496.6 L448.4,492.0 L445.6,487.4 L442.8,482.8 L440.1,478.2 L437.3,473.6 L434.6,469.0 L431.9,464.3 L429.3,459.7 L426.6,455.1 L424.0,450.5 L421.4,445.9 L418.8,441.3 L416.3,436.7 L413.7,432.1 L411.2,427.4 L408.8,422.8 L406.3,418.2 L403.9,413.6 L401.4,409.0 L399.0,404.4 L396.7,399.8 L394.3,395.2 L392.0,390.5 L389.7,385.9 L387.4,381.3 L385.1,376.7 L382.8,372.1 L380.6,367.5 L378.4,362.9 L376.2,358.3 L374.0,353.6 L371.9,349.0 L369.7,344.4 L367.6,339.8 L365.5,335.2 L363.5,330.6 L361.4,326.0 L359.3,321.4 L357.3,316.7 L355.3,312.1 L353.3,307.5 L351.4,302.9" fill="none" stroke="#0000ff" stroke-width="3.8" stroke-dasharray="1.3 4.4" stroke-linecap="round"/>
<path d="M1047.3,1040.9 L1033.8,1036.3 L1020.5,1031.7 L1007.4,1027.1 L994.5,1022.5 L981.7,1017.9 L969.2,1013.2 L956.8,1008.6 L944.7,1004.0 L932.7,999.4 L920.9,994.8 L909.2,990.2 L897.8,985.6 L886.5,981.0 L875.3,976.3 L864.3,971.7 L853.5,967.1 L842.9,962.5 L832.4,957.9 L822.1,953.3 L811.9,948.7 L801.8,944.1 L791.9,939.4 L782.2,934.8 L772.6,930.2 L763.1,925.6 L753.8,921.0 L744.7,916.4 L735.6,911.8 L726.7,907.2 L717.9,902.5 L709.3,897.9 L700.7,893.3 L692.3,888.7 L684.1,884.1 L675.9,879.5 L667.9,874.9 L660.0,870.3 L652.2,865.6 L644.5,861.0 L636.9,856.4 L629.5,851.8 L622.1,847.2 L614.9,842.6 L607.8,838.0 L600.7,833.4 L593.8,828.7 L587.0,824.1 L580.3,819.5 L573.7,814.9 L567.1,810.3 L560.7,805.7 L554.4,801.1 L548.1,796.5 L542.0,791.8 L535.9,787.2 L530.0,782.6 L524.1,778.0 L518.3,773.4 L512.6,768.8 L507.0,764.2 L501.4,759.6 L496.0,754.9 L490.6,750.3 L485.3,745.7 L480.1,741.1 L474.9,736.5 L469.9,731.9 L464.9,727.3 L460.0,722.7 L455.1,718.0 L450.3,713.4 L445.6,708.8 L441.0,704.2 L436.4,699.6 L431.9,695.0 L427.5,690.4 L423.1,685.7 L418.8,681.1 L414.6,676.5 L410.4,671.9 L406.3,667.3 L402.2,662.7 L398.2,658.1 L394.3,653.5 L390.4,648.8 L386.6,644.2 L382.8,639.6 L379.1,635.0 L375.5,630.4 L371.9,625.8 L368.3,621.2 L364.8,616.6 L361.4,611.9 L358.0,607.3 L354.7,602.7 L351.4,598.1 L348.1,593.5 L344.9,588.9 L341.8,584.3 L338.7,579.7 L335.6,575.0 L332.6,570.4 L329.6,565.8 L326.7,561.2 L323.8,556.6 L321.0,552.0 L318.2,547.4 L315.4,542.8 L312.7,538.1 L310.0,533.5 L307.4,528.9 L304.8,524.3 L302.2,519.7 L299.7,515.1 L297.2,510.5 L294.8,505.9 L292.4,501.2 L290.0,496.6 L287.7,492.0 L285.4,487.4 L283.1,482.8 L280.9,478.2 L278.6,473.6 L276.5,469.0 L274.3,464.3 L272.2,459.7 L270.1,455.1 L268.1,450.5 L266.1,445.9 L264.1,441.3 L262.1,436.7 L260.2,432.1 L258.3,427.4 L256.4,422.8 L254.6,418.2 L252.8,413.6 L251.0,409.0 L249.2,404.4 L247.5,399.8 L245.8,395.2 L244.1,390.5 L242.4,385.9 L240.8,381.3 L239.2,376.7 L237.6,372.1 L236.0,367.5 L234.5,362.9 L232.9,358.3 L231.4,353.6 L230.0,349.0 L228.5,344.4 L227.1,339.8 L225.7,335.2 L224.3,330.6 L222.9,326.0 L221.5,321.4 L220.2,316.7 L218.9,312.1 L217.6,307.5 L216.3,302.9" fill="none" stroke="#1a8cff" stroke-width="3.8" stroke-dasharray="1.3 4.4" stroke-linecap="round"/>
<path d="M818.2,1186.8 L813.0,1181.3 L807.8,1175.7 L802.7,1170.2 L797.6,1164.7 L792.5,1159.2 L787.5,1153.6 L782.5,1148.1 L777.6,1142.6 L772.7,1137.1 L767.8,1131.5 L763.0,1126.0 L758.2,1120.5 L753.4,1115.0 L748.7,1109.4 L744.0,1103.9 L739.3,1098.4 L734.7,1092.9 L730.1,1087.4 L725.6,1081.8 L721.1,1076.3 L716.6,1070.8 L712.1,1065.3 L707.7,1059.7 L703.4,1054.2 L699.0,1048.7 L694.7,1043.2 L690.4,1037.6 L686.2,1032.1 L682.0,1026.6 L677.8,1021.1 L673.6,1015.5 L669.5,1010.0 L665.4,1004.5 L661.4,999.0 L657.3,993.4 L653.3,987.9 L649.4,982.4 L645.4,976.9 L641.5,971.3 L637.7,965.8 L633.8,960.3 L630.0,954.8 L626.2,949.2 L622.4,943.7 L618.7,938.2 L615.0,932.7 L611.3,927.1 L607.7,921.6 L604.1,916.1 L600.5,910.6 L596.9,905.1 L593.4,899.5 L589.9,894.0 L586.4,888.5 L582.9,883.0 L579.5,877.4 L576.1,871.9 L572.7,866.4 L569.4,860.9 L566.0,855.3 L562.7,849.8 L559.5,844.3 L556.2,838.8 L553.0,833.2 L549.8,827.7 L546.6,822.2 L543.4,816.7 L540.3,811.1 L537.2,805.6 L534.1,800.1 L531.1,794.6 L528.0,789.0 L525.0,783.5 L522.0,778.0 L519.1,772.5 L516.1,766.9 L513.2,761.4 L510.3,755.9 L507.4,750.4 L504.5,744.8 L501.7,739.3 L498.9,733.8 L496.1,728.3 L493.3,722.7 L490.6,717.2 L487.9,711.7 L485.1,706.2 L482.5,700.7 L479.8,695.1 L477.1,689.6 L474.5,684.1 L471.9,678.6 L469.3,673.0 L466.8,667.5 L464.2,662.0 L461.7,656.5 L459.2,650.9 L456.7,645.4 L454.2,639.9 L451.8,634.4 L449.3,628.8 L446.9,623.3 L444.5,617.8 L442.1,612.3 L439.8,606.7 L437.4,601.2 L435.1,595.7 L432.8,590.2 L430.5,584.6 L428.2,579.1 L426.0,573.6 L423.7,568.1 L421.5,562.5 L419.3,557.0 L417.1,551.5 L414.9,546.0 L412.8,540.4 L410.7,534.9 L408.5,529.4 L406.4,523.9 L404.3,518.3 L402.3,512.8 L400.2,507.3 L398.2,501.8 L396.1,496.3 L394.1,490.7 L392.1,485.2 L390.1,479.7 L388.2,474.2 L386.2,468.6 L384.3,463.1 L382.4,457.6 L380.5,452.1 L378.6,446.5 L376.7,441.0 L374.8,435.5 L373.0,430.0 L371.1,424.4 L369.3,418.9 L367.5,413.4 L365.7,407.9 L363.9,402.3 L362.2,396.8 L360.4,391.3 L358.7,385.8 L357.0,380.2 L355.2,374.7 L353.5,369.2 L351.8,363.7 L350.2,358.1 L348.5,352.6 L346.9,347.1 L345.2,341.6 L343.6,336.0 L342.0,330.5 L340.4,325.0 L338.8,319.5 L337.2,313.9 L335.7,308.4 L334.1,302.9" fill="none" stroke="#000066" stroke-width="3.8" stroke-dasharray="1.3 4.4" stroke-linecap="round"/>
<path d="M818.2,1186.8 L810.9,1181.3 L803.7,1175.7 L796.6,1170.2 L789.5,1164.7 L782.5,1159.2 L775.6,1153.6 L768.8,1148.1 L762.0,1142.6 L755.3,1137.1 L748.7,1131.5 L742.1,1126.0 L735.6,1120.5 L729.2,1115.0 L722.9,1109.4 L716.6,1103.9 L710.4,1098.4 L704.2,1092.9 L698.1,1087.4 L692.1,1081.8 L686.2,1076.3 L680.3,1070.8 L674.5,1065.3 L668.7,1059.7 L663.0,1054.2 L657.3,1048.7 L651.7,1043.2 L646.2,1037.6 L640.8,1032.1 L635.3,1026.6 L630.0,1021.1 L624.7,1015.5 L619.5,1010.0 L614.3,1004.5 L609.1,999.0 L604.1,993.4 L599.1,987.9 L594.1,982.4 L589.2,976.9 L584.3,971.3 L579.5,965.8 L574.7,960.3 L570.0,954.8 L565.4,949.2 L560.8,943.7 L556.2,938.2 L551.7,932.7 L547.2,927.1 L542.8,921.6 L538.4,916.1 L534.1,910.6 L529.8,905.1 L525.6,899.5 L521.4,894.0 L517.3,888.5 L513.2,883.0 L509.1,877.4 L505.1,871.9 L501.1,866.4 L497.2,860.9 L493.3,855.3 L489.5,849.8 L485.7,844.3 L481.9,838.8 L478.2,833.2 L474.5,827.7 L470.9,822.2 L467.3,816.7 L463.7,811.1 L460.2,805.6 L456.7,800.1 L453.2,794.6 L449.8,789.0 L446.4,783.5 L443.1,778.0 L439.8,772.5 L436.5,766.9 L433.3,761.4 L430.0,755.9 L426.9,750.4 L423.7,744.8 L420.6,739.3 L417.6,733.8 L414.5,728.3 L411.5,722.7 L408.5,717.2 L405.6,711.7 L402.7,706.2 L399.8,700.7 L396.9,695.1 L394.1,689.6 L391.3,684.1 L388.6,678.6 L385.8,673.0 L383.1,667.5 L380.5,662.0 L377.8,656.5 L375.2,650.9 L372.6,645.4 L370.0,639.9 L367.5,634.4 L365.0,628.8 L362.5,623.3 L360.1,617.8 L357.6,612.3 L355.2,606.7 L352.9,601.2 L350.5,595.7 L348.2,590.2 L345.9,584.6 L343.6,579.1 L341.3,573.6 L339.1,568.1 L336.9,562.5 L334.7,557.0 L332.6,551.5 L330.4,546.0 L328.3,540.4 L326.2,534.9 L324.1,529.4 L322.1,523.9 L320.1,518.3 L318.1,512.8 L316.1,507.3 L314.1,501.8 L312.2,496.3 L310.3,490.7 L308.4,485.2 L306.5,479.7 L304.6,474.2 L302.8,468.6 L301.0,463.1 L299.2,457.6 L297.4,452.1 L295.6,446.5 L293.9,441.0 L292.1,435.5 L290.4,430.0 L288.7,424.4 L287.1,418.9 L285.4,413.4 L283.8,407.9 L282.2,402.3 L280.6,396.8 L279.0,391.3 L277.4,385.8 L275.9,380.2 L274.3,374.7 L272.8,369.2 L271.3,363.7 L269.8,358.1 L268.3,352.6 L266.9,347.1 L265.5,341.6 L264.0,336.0 L262.6,330.5 L261.2,325.0 L259.8,319.5 L258.5,313.9 L257.1,308.4 L255.8,302.9" fill="none" stroke="#0000ff" stroke-width="3.8" stroke-dasharray="1.3 4.4" stroke-linecap="round"/>
<path d="M818.2,1186.8 L806.1,1181.3 L794.2,1175.7 L782.5,1170.2 L771.0,1164.7 L759.8,1159.2 L748.7,1153.6 L737.8,1148.1 L727.1,1142.6 L716.6,1137.1 L706.3,1131.5 L696.1,1126.0 L686.2,1120.5 L676.4,1115.0 L666.8,1109.4 L657.3,1103.9 L648.1,1098.4 L638.9,1092.9 L630.0,1087.4 L621.2,1081.8 L612.6,1076.3 L604.1,1070.8 L595.7,1065.3 L587.5,1059.7 L579.5,1054.2 L571.6,1048.7 L563.8,1043.2 L556.2,1037.6 L548.7,1032.1 L541.4,1026.6 L534.1,1021.1 L527.0,1015.5 L520.0,1010.0 L513.2,1004.5 L506.4,999.0 L499.8,993.4 L493.3,987.9 L486.9,982.4 L480.7,976.9 L474.5,971.3 L468.5,965.8 L462.5,960.3 L456.7,954.8 L450.9,949.2 L445.3,943.7 L439.8,938.2 L434.3,932.7 L429.0,927.1 L423.7,921.6 L418.6,916.1 L413.5,910.6 L408.5,905.1 L403.6,899.5 L398.8,894.0 L394.1,888.5 L389.5,883.0 L384.9,877.4 L380.5,871.9 L376.1,866.4 L371.8,860.9 L367.5,855.3 L363.3,849.8 L359.3,844.3 L355.2,838.8 L351.3,833.2 L347.4,827.7 L343.6,822.2 L339.9,816.7 L336.2,811.1 L332.6,805.6 L329.0,800.1 L325.5,794.6 L322.1,789.0 L318.7,783.5 L315.4,778.0 L312.2,772.5 L309.0,766.9 L305.9,761.4 L302.8,755.9 L299.8,750.4 L296.8,744.8 L293.9,739.3 L291.0,733.8 L288.2,728.3 L285.4,722.7 L282.7,717.2 L280.0,711.7 L277.4,706.2 L274.8,700.7 L272.3,695.1 L269.8,689.6 L267.4,684.1 L265.0,678.6 L262.6,673.0 L260.3,667.5 L258.0,662.0 L255.8,656.5 L253.6,650.9 L251.4,645.4 L249.3,639.9 L247.2,634.4 L245.2,628.8 L243.2,623.3 L241.2,617.8 L239.3,612.3 L237.4,606.7 L235.5,601.2 L233.7,595.7 L231.9,590.2 L230.1,584.6 L228.3,579.1 L226.6,573.6 L225.0,568.1 L223.3,562.5 L221.7,557.0 L220.1,551.5 L218.5,546.0 L217.0,540.4 L215.5,534.9 L214.0,529.4 L212.5,523.9 L211.1,518.3 L209.7,512.8 L208.3,507.3 L206.9,501.8 L205.6,496.3 L204.3,490.7 L203.0,485.2 L201.8,479.7 L200.5,474.2 L199.3,468.6 L198.1,463.1 L196.9,457.6 L195.8,452.1 L194.6,446.5 L193.5,441.0 L192.4,435.5 L191.3,430.0 L190.3,424.4 L189.2,418.9 L188.2,413.4 L187.2,407.9 L186.2,402.3 L185.2,396.8 L184.3,391.3 L183.4,385.8 L182.4,380.2 L181.5,374.7 L180.7,369.2 L179.8,363.7 L178.9,358.1 L178.1,352.6 L177.3,347.1 L176.5,341.6 L175.7,336.0 L174.9,330.5 L174.1,325.0 L173.4,319.5 L172.6,313.9 L171.9,308.4 L171.2,302.9" fill="none" stroke="#1a8cff" stroke-width="3.8" stroke-dasharray="1.3 4.4" stroke-linecap="round"/>
<rect x="1080" y="873.6" width="420" height="92.7" fill="rgba(158,104,56,0.4)"/>
<line x1="1080" y1="920.2" x2="1500" y2="920.2" stroke="rgba(120,100,80,0.6)" stroke-width="1"/>
<line x1="1288.3" y1="873.6" x2="1288.3" y2="966.3" stroke="rgba(120,100,80,0.6)" stroke-width="1"/>
<line x1="1283.3" y1="873.6" x2="1293.3" y2="873.6" stroke="rgba(120,100,80,0.6)" stroke-width="1"/>
<line x1="1283.3" y1="966.3" x2="1293.3" y2="966.3" stroke="rgba(120,100,80,0.6)" stroke-width="1"/>
</g>
<g clip-path="url(#pc)">
<path d="M305.5,649.4 V910.2 M301.5,649.4 H309.5 M301.5,910.2 H309.5" stroke="rgba(90,90,90,0.65)" stroke-width="1" fill="none"/>
<path d="M310.5,551.4 V717.4 M306.5,551.4 H314.5 M306.5,717.4 H314.5" stroke="rgba(90,90,90,0.65)" stroke-width="1" fill="none"/>
<path d="M351.5,572.1 V724.1 M347.5,572.1 H355.5 M347.5,724.1 H355.5" stroke="rgba(90,90,90,0.65)" stroke-width="1" fill="none"/>
<path d="M343.5,613.6 V723.6 M339.5,613.6 H347.5 M339.5,723.6 H347.5" stroke="rgba(90,90,90,0.65)" stroke-width="1" fill="none"/>
<path d="M344.5,627.6 V723.6 M340.5,627.6 H348.5 M340.5,723.6 H348.5" stroke="rgba(90,90,90,0.65)" stroke-width="1" fill="none"/>
<path d="M340.5,642.7 V722.7 M336.5,642.7 H344.5 M336.5,722.7 H344.5" stroke="rgba(90,90,90,0.65)" stroke-width="1" fill="none"/>
<path d="M348.5,579.6 V799.6 M344.5,579.6 H352.5 M344.5,799.6 H352.5" stroke="rgba(90,90,90,0.65)" stroke-width="1" fill="none"/>
<path d="M319.5,599.4 V780.0 M315.5,599.4 H323.5 M315.5,780.0 H323.5" stroke="rgba(90,90,90,0.65)" stroke-width="1" fill="none"/>
<path d="M333.5,641.3 V793.3 M329.5,641.3 H337.5 M329.5,793.3 H337.5" stroke="rgba(90,90,90,0.65)" stroke-width="1" fill="none"/>
<path d="M330.5,656.4 V834.4 M326.5,656.4 H334.5 M326.5,834.4 H334.5" stroke="rgba(90,90,90,0.65)" stroke-width="1" fill="none"/>
<path d="M372.5,650.5 V770.5 M368.5,650.5 H376.5 M368.5,770.5 H376.5" stroke="rgba(90,90,90,0.65)" stroke-width="1" fill="none"/>
<path d="M363.5,698.0 V806.0 M359.5,698.0 H367.5 M359.5,806.0 H367.5" stroke="rgba(90,90,90,0.65)" stroke-width="1" fill="none"/>
<path d="M368.5,727.3 V793.3 M364.5,727.3 H372.5 M364.5,793.3 H372.5" stroke="rgba(90,90,90,0.65)" stroke-width="1" fill="none"/>
<path d="M339.5,800.6 V827.6 M335.5,800.6 H343.5 M335.5,827.6 H343.5" stroke="rgba(90,90,90,0.65)" stroke-width="1" fill="none"/>
<path d="M377.5,758.1 V870.1 M373.5,758.1 H381.5 M373.5,870.1 H381.5" stroke="rgba(90,90,90,0.65)" stroke-width="1" fill="none"/>
<path d="M370.0,882.0 H379.0" stroke="rgba(40,40,40,0.8)" stroke-width="1.3" fill="none"/>
<path d="M428.5,636.6 V675.4 M424.5,636.6 H432.5 M424.5,675.4 H432.5" stroke="rgba(90,90,90,0.65)" stroke-width="1" fill="none"/>
<path d="M345.5,613.2 V641.2 M341.5,613.2 H349.5 M341.5,641.2 H349.5" stroke="rgba(90,90,90,0.65)" stroke-width="1" fill="none"/>
<path d="M376.0,661.4 H385.0" stroke="rgba(40,40,40,0.8)" stroke-width="1.3" fill="none"/>
<path d="M398.5,606.7 V661.7 M394.5,606.7 H402.5 M394.5,661.7 H402.5" stroke="rgba(90,90,90,0.65)" stroke-width="1" fill="none"/>
<path d="M359.5,659.2 V719.2 M355.5,659.2 H363.5 M355.5,719.2 H363.5" stroke="rgba(90,90,90,0.65)" stroke-width="1" fill="none"/>
<path d="M379.5,696.3 V751.3 M375.5,696.3 H383.5 M375.5,751.3 H383.5" stroke="rgba(90,90,90,0.65)" stroke-width="1" fill="none"/>
<path d="M374.5,724.7 V764.7 M370.5,724.7 H378.5 M370.5,764.7 H378.5" stroke="rgba(90,90,90,0.65)" stroke-width="1" fill="none"/>
<path d="M371.5,648.2 V910.2 M367.5,648.2 H375.5 M367.5,910.2 H375.5" stroke="rgba(90,90,90,0.65)" stroke-width="1" fill="none"/>
<path d="M431.5,599.2 V641.2 M427.5,599.2 H435.5 M427.5,641.2 H435.5" stroke="rgba(90,90,90,0.65)" stroke-width="1" fill="none"/>
<path d="M436.0,655.2 H445.0" stroke="rgba(40,40,40,0.8)" stroke-width="1.3" fill="none"/>
<path d="M454.5,620.5 V785.9 M450.5,620.5 H458.5 M450.5,785.9 H458.5" stroke="rgba(90,90,90,0.65)" stroke-width="1" fill="none"/>
<path d="M291.5,523.6 V717.6 M287.5,523.6 H295.5 M287.5,717.6 H295.5" stroke="rgba(230,140,100,0.7)" stroke-width="1" fill="none"/>
<path d="M305.5,551.2 V717.2 M301.5,551.2 H309.5 M301.5,717.2 H309.5" stroke="rgba(230,140,100,0.7)" stroke-width="1" fill="none"/>
<path d="M316.5,630.2 V670.2 M312.5,630.2 H320.5 M312.5,670.2 H320.5" stroke="rgba(230,140,100,0.7)" stroke-width="1" fill="none"/>
<path d="M368.5,558.6 V779.4 M364.5,558.6 H372.5 M364.5,779.4 H372.5" stroke="rgba(230,140,100,0.7)" stroke-width="1" fill="none"/>
<path d="M445.5,379.1 V503.1 M441.5,379.1 H449.5 M441.5,503.1 H449.5" stroke="rgba(0,240,255,0.45)" stroke-width="1" fill="none"/>
<path d="M373.5,468.5 V551.5 M369.5,468.5 H377.5 M369.5,551.5 H377.5" stroke="rgba(0,240,255,0.45)" stroke-width="1" fill="none"/>
<path d="M350.5,434.9 V626.9 M346.5,434.9 H354.5 M346.5,626.9 H354.5" stroke="rgba(0,240,255,0.45)" stroke-width="1" fill="none"/>
<path d="M374.5,590.5 V650.5 M370.5,590.5 H378.5 M370.5,650.5 H378.5" stroke="rgba(0,240,255,0.45)" stroke-width="1" fill="none"/>
<path d="M380.5,590.5 V650.5 M376.5,590.5 H384.5 M376.5,650.5 H384.5" stroke="rgba(0,240,255,0.45)" stroke-width="1" fill="none"/>
<path d="M429.5,613.5 V641.5 M425.5,613.5 H433.5 M425.5,641.5 H433.5" stroke="rgba(0,240,255,0.45)" stroke-width="1" fill="none"/>
<path d="M402.5,592.8 V730.8 M398.5,592.8 H406.5 M398.5,730.8 H406.5" stroke="rgba(0,240,255,0.45)" stroke-width="1" fill="none"/>
<path d="M395.0,668.9 H404.0" stroke="rgba(40,40,40,0.8)" stroke-width="1.3" fill="none"/>
<path d="M356.5,385.7 V496.5 M352.5,385.7 H360.5 M352.5,496.5 H360.5" stroke="rgba(200,80,80,0.6)" stroke-width="1" fill="none"/>
<path d="M443.5,448.2 V627.2 M439.5,448.2 H447.5 M439.5,627.2 H447.5" stroke="rgba(200,80,80,0.6)" stroke-width="1" fill="none"/>
<path d="M415.5,453.0 V660.0 M411.5,453.0 H419.5 M411.5,660.0 H419.5" stroke="rgba(200,80,80,0.6)" stroke-width="1" fill="none"/>
<path d="M405.5,420.2 V572.2 M401.5,420.2 H409.5 M401.5,572.2 H409.5" stroke="rgba(70,70,255,0.6)" stroke-width="1" fill="none"/>
<path d="M448.5,510.8 V536.8 M444.5,510.8 H452.5 M444.5,536.8 H452.5" stroke="rgba(70,70,255,0.6)" stroke-width="1" fill="none"/>
<path d="M479.5,537.1 V593.1 M475.5,537.1 H483.5 M475.5,593.1 H483.5" stroke="rgba(70,70,255,0.6)" stroke-width="1" fill="none"/>
<path d="M434.5,517.0 V641.0 M430.5,517.0 H438.5 M430.5,641.0 H438.5" stroke="rgba(70,70,255,0.6)" stroke-width="1" fill="none"/>
<path d="M502.5,461.5 V682.5 M498.5,461.5 H506.5 M498.5,682.5 H506.5" stroke="rgba(70,70,255,0.6)" stroke-width="1" fill="none"/>
<path d="M486.5,586.1 V599.5 M482.5,586.1 H490.5 M482.5,599.5 H490.5" stroke="rgba(70,70,255,0.6)" stroke-width="1" fill="none"/>
<path d="M556.5,537.6 V634.6 M552.5,537.6 H560.5 M552.5,634.6 H560.5" stroke="rgba(70,70,255,0.6)" stroke-width="1" fill="none"/>
<path d="M448.5,592.0 V622.0 M444.5,592.0 H452.5 M444.5,622.0 H452.5" stroke="rgba(70,70,255,0.6)" stroke-width="1" fill="none"/>
<path d="M465.5,565.5 V648.5 M461.5,565.5 H469.5 M461.5,648.5 H469.5" stroke="rgba(70,70,255,0.6)" stroke-width="1" fill="none"/>
<path d="M280.5,629.7 L291.0,611.5 L301.5,629.7 Z" fill="#ff6600"/>
<path d="M294.8,643.3 L305.3,625.1 L315.8,643.3 Z" fill="#ff6600"/>
<path d="M306.4,659.3 L316.9,641.1 L327.4,659.3 Z" fill="#ff6600"/>
<path d="M358.0,678.1 L368.5,659.9 L379.0,678.1 Z" fill="#ff6600"/>
<path d="M295.8,788.3 L305.5,771.3 L315.2,788.3 Z" fill="none" stroke="#000" stroke-width="2"/>
<path d="M300.9,642.9 L310.6,625.9 L320.4,642.9 Z" fill="none" stroke="#000" stroke-width="2"/>
<path d="M341.8,656.6 L351.5,639.6 L361.2,656.6 Z" fill="none" stroke="#000" stroke-width="2"/>
<path d="M333.4,677.1 L343.2,660.1 L352.9,677.1 Z" fill="none" stroke="#000" stroke-width="2"/>
<path d="M334.6,684.1 L344.3,667.1 L354.1,684.1 Z" fill="none" stroke="#000" stroke-width="2"/>
<path d="M331.1,691.2 L340.8,674.2 L350.6,691.2 Z" fill="none" stroke="#000" stroke-width="2"/>
<path d="M338.6,698.1 L348.4,681.1 L358.1,698.1 Z" fill="none" stroke="#000" stroke-width="2"/>
<path d="M309.9,698.2 L319.7,681.2 L329.4,698.2 Z" fill="none" stroke="#000" stroke-width="2"/>
<path d="M323.9,725.8 L333.6,708.8 L343.4,725.8 Z" fill="none" stroke="#000" stroke-width="2"/>
<path d="M320.6,753.9 L330.3,736.9 L340.1,753.9 Z" fill="none" stroke="#000" stroke-width="2"/>
<path d="M362.6,719.0 L372.4,702.0 L382.1,719.0 Z" fill="none" stroke="#000" stroke-width="2"/>
<path d="M353.9,760.5 L363.6,743.5 L373.4,760.5 Z" fill="none" stroke="#000" stroke-width="2"/>
<path d="M359.1,768.8 L368.8,751.8 L378.6,768.8 Z" fill="none" stroke="#000" stroke-width="2"/>
<path d="M329.2,822.6 L339.0,805.6 L348.8,822.6 Z" fill="none" stroke="#000" stroke-width="2"/>
<path d="M367.6,822.6 L377.3,805.6 L387.1,822.6 Z" fill="none" stroke="#000" stroke-width="2"/>
<path d="M365.1,890.5 L374.9,873.5 L384.6,890.5 Z" fill="none" stroke="#000" stroke-width="2"/>
<path d="M418.6,664.5 L428.4,647.5 L438.1,664.5 Z" fill="none" stroke="#000" stroke-width="2"/>
<rect x="435.4" y="438.0" width="21" height="6.2" fill="#00ffff"/><rect x="442.8" y="430.6" width="6.2" height="21" fill="#00ffff"/>
<rect x="363.1" y="506.9" width="21" height="6.2" fill="#00ffff"/><rect x="370.5" y="499.5" width="6.2" height="21" fill="#00ffff"/>
<rect x="340.0" y="527.8" width="21" height="6.2" fill="#00ffff"/><rect x="347.4" y="520.4" width="6.2" height="21" fill="#00ffff"/>
<rect x="364.3" y="617.4" width="21" height="6.2" fill="#00ffff"/><rect x="371.7" y="610.0" width="6.2" height="21" fill="#00ffff"/>
<rect x="369.5" y="617.4" width="21" height="6.2" fill="#00ffff"/><rect x="376.9" y="610.0" width="6.2" height="21" fill="#00ffff"/>
<rect x="419.4" y="624.4" width="21" height="6.2" fill="#00ffff"/><rect x="426.8" y="617.0" width="6.2" height="21" fill="#00ffff"/>
<rect x="391.9" y="658.7" width="21" height="6.2" fill="#00ffff"/><rect x="399.3" y="651.3" width="6.2" height="21" fill="#00ffff"/>
<rect x="389.1" y="665.8" width="21" height="6.2" fill="#00ffff"/><rect x="396.5" y="658.4" width="6.2" height="21" fill="#00ffff"/>
<rect x="346.0" y="438.0" width="21" height="6.2" fill="#ff0000"/><rect x="353.4" y="430.6" width="6.2" height="21" fill="#ff0000"/>
<rect x="432.8" y="534.6" width="21" height="6.2" fill="#ff0000"/><rect x="440.2" y="527.2" width="6.2" height="21" fill="#ff0000"/>
<rect x="404.8" y="553.4" width="21" height="6.2" fill="#ff0000"/><rect x="412.2" y="546.0" width="6.2" height="21" fill="#ff0000"/>
<rect x="395.1" y="493.1" width="21" height="6.2" fill="#0000ff"/><rect x="402.5" y="485.7" width="6.2" height="21" fill="#0000ff"/>
<rect x="437.5" y="520.7" width="21" height="6.2" fill="#0000ff"/><rect x="444.9" y="513.3" width="6.2" height="21" fill="#0000ff"/>
<rect x="468.8" y="562.0" width="21" height="6.2" fill="#0000ff"/><rect x="476.2" y="554.6" width="6.2" height="21" fill="#0000ff"/>
<rect x="424.4" y="575.9" width="21" height="6.2" fill="#0000ff"/><rect x="431.8" y="568.5" width="6.2" height="21" fill="#0000ff"/>
<rect x="491.8" y="568.9" width="21" height="6.2" fill="#0000ff"/><rect x="499.2" y="561.5" width="6.2" height="21" fill="#0000ff"/>
<rect x="475.9" y="589.7" width="21" height="6.2" fill="#0000ff"/><rect x="483.3" y="582.3" width="6.2" height="21" fill="#0000ff"/>
<rect x="545.6" y="583.0" width="21" height="6.2" fill="#0000ff"/><rect x="553.0" y="575.6" width="6.2" height="21" fill="#0000ff"/>
<rect x="437.8" y="603.9" width="21" height="6.2" fill="#0000ff"/><rect x="445.2" y="596.5" width="6.2" height="21" fill="#0000ff"/>
<rect x="454.8" y="603.9" width="21" height="6.2" fill="#0000ff"/><rect x="462.2" y="596.5" width="6.2" height="21" fill="#0000ff"/>
<circle cx="345.6" cy="627.2" r="9.3" fill="none" stroke="#000" stroke-width="2"/>
<circle cx="380.6" cy="661.4" r="9.3" fill="none" stroke="#000" stroke-width="2"/>
<circle cx="398.1" cy="634.2" r="9.3" fill="none" stroke="#000" stroke-width="2"/>
<circle cx="359.6" cy="689.2" r="9.3" fill="none" stroke="#000" stroke-width="2"/>
<circle cx="379.3" cy="723.8" r="9.3" fill="none" stroke="#000" stroke-width="2"/>
<circle cx="374.6" cy="744.7" r="9.3" fill="none" stroke="#000" stroke-width="2"/>
<circle cx="371.1" cy="779.2" r="9.3" fill="none" stroke="#000" stroke-width="2"/>
<circle cx="431.3" cy="620.2" r="9.3" fill="none" stroke="#000" stroke-width="2"/>
<circle cx="440.5" cy="655.2" r="9.3" fill="none" stroke="#000" stroke-width="2"/>
<circle cx="454.7" cy="703.2" r="9.3" fill="none" stroke="#000" stroke-width="2"/>
</g>
<path d="M1288.6,899.3 L1293.5,913.3 L1308.3,913.6 L1296.5,922.6 L1300.8,936.7 L1288.6,928.3 L1276.4,936.7 L1280.7,922.6 L1268.9,913.6 L1283.7,913.3 Z" fill="#9c6a35"/>
<text x="1207.8" y="859.1" font-size="59" fill="#9c6a35" textLength="154.6" lengthAdjust="spacingAndGlyphs">Loess</text>
<text x="714.6" y="1028.2" font-size="46" fill="#2b2519" textLength="89.7" lengthAdjust="spacingAndGlyphs">40%</text>
<text x="1053.1" y="1142.2" font-size="46" fill="#000" textLength="88.2" lengthAdjust="spacingAndGlyphs">20%</text>
<rect x="131.4" y="1.5" width="1364.1" height="1177.9" fill="none" stroke="#000" stroke-width="3"/>
<line x1="130" y1="351.5" x2="1497" y2="351.5" stroke="#000" stroke-width="3"/>
<line x1="131.3" y1="1170" x2="131.3" y2="1179" stroke="#000" stroke-width="2.5"/>
<line x1="294.7" y1="1170" x2="294.7" y2="1179" stroke="#000" stroke-width="2.5"/>
<line x1="458.1" y1="1170" x2="458.1" y2="1179" stroke="#000" stroke-width="2.5"/>
<line x1="621.5" y1="1170" x2="621.5" y2="1179" stroke="#000" stroke-width="2.5"/>
<line x1="784.9" y1="1170" x2="784.9" y2="1179" stroke="#000" stroke-width="2.5"/>
<line x1="948.3" y1="1170" x2="948.3" y2="1179" stroke="#000" stroke-width="2.5"/>
<line x1="1111.7" y1="1170" x2="1111.7" y2="1179" stroke="#000" stroke-width="2.5"/>
<line x1="1275.1" y1="1170" x2="1275.1" y2="1179" stroke="#000" stroke-width="2.5"/>
<line x1="1438.5" y1="1170" x2="1438.5" y2="1179" stroke="#000" stroke-width="2.5"/>
<line x1="131" y1="1179.2" x2="140.5" y2="1179.2" stroke="#000" stroke-width="2.6"/>
<line x1="131" y1="1110.2" x2="140.5" y2="1110.2" stroke="#000" stroke-width="2.6"/>
<line x1="131" y1="1041.2" x2="140.5" y2="1041.2" stroke="#000" stroke-width="2.6"/>
<line x1="131" y1="972.2" x2="140.5" y2="972.2" stroke="#000" stroke-width="2.6"/>
<line x1="131" y1="903.2" x2="140.5" y2="903.2" stroke="#000" stroke-width="2.6"/>
<line x1="131" y1="834.2" x2="140.5" y2="834.2" stroke="#000" stroke-width="2.6"/>
<line x1="131" y1="765.2" x2="140.5" y2="765.2" stroke="#000" stroke-width="2.6"/>
<line x1="131" y1="696.2" x2="140.5" y2="696.2" stroke="#000" stroke-width="2.6"/>
<line x1="131" y1="627.2" x2="140.5" y2="627.2" stroke="#000" stroke-width="2.6"/>
<line x1="131" y1="558.2" x2="140.5" y2="558.2" stroke="#000" stroke-width="2.6"/>
<line x1="131" y1="489.2" x2="140.5" y2="489.2" stroke="#000" stroke-width="2.6"/>
<line x1="131" y1="420.2" x2="140.5" y2="420.2" stroke="#000" stroke-width="2.6"/>
<line x1="131" y1="351.2" x2="140.5" y2="351.2" stroke="#000" stroke-width="2.6"/>
<text x="110" y="1190.1" font-size="29.8" text-anchor="end">-0.80</text>
<text x="110" y="1052.1" font-size="29.8" text-anchor="end">-0.60</text>
<text x="110" y="914.1" font-size="29.8" text-anchor="end">-0.40</text>
<text x="110" y="776.1" font-size="29.8" text-anchor="end">-0.20</text>
<text x="110" y="638.1" font-size="29.8" text-anchor="end">0.00</text>
<text x="110" y="500.1" font-size="29.8" text-anchor="end">0.20</text>
<text x="110" y="362.1" font-size="29.8" text-anchor="end">0.40</text>
<text x="131.3" y="1227.3" font-size="29.8" text-anchor="middle">0.00</text>
<text x="458.1" y="1227.3" font-size="29.8" text-anchor="middle">0.10</text>
<text x="784.9" y="1227.3" font-size="29.8" text-anchor="middle">0.20</text>
<text x="1111.7" y="1227.3" font-size="29.8" text-anchor="middle">0.30</text>
<text x="1438.5" y="1227.3" font-size="29.8" text-anchor="middle">0.40</text>
<text x="785.6" y="1261" font-size="29.7" text-anchor="middle">K/Na* (mol/mol)</text>
<text transform="translate(22.6,0) rotate(-90)" font-size="29.5"><tspan x="-903">δ</tspan><tspan x="-886" dy="-10.5" font-size="20">41</tspan><tspan x="-866.5" dy="10.5">K</tspan><tspan x="-849" dy="6.5" font-size="20">rw</tspan><tspan x="-822" dy="-6.5">(‰, SRM999c)</tspan></text>
<text x="286.7" y="36" font-size="29.4">Pre-monsoon</text>
<text x="286.7" y="79" font-size="29.4">Ice melting</text>
<text x="286.7" y="122" font-size="29.4">Early monsoon</text>
<text x="286.7" y="165" font-size="29.4">Storm event</text>
<text x="286.7" y="208" font-size="29.4">Late monsoon</text>
<text x="286.7" y="251" font-size="29.4">Post monsoon</text>
<text x="286.7" y="296.6" font-size="29.4">Loess</text>
<text x="286.7" y="342.6" font-size="29.4">Rayleigh dissolution α=1.00105</text>
<path d="M192.8,34.5 L202.6,17.5 L212.3,34.5 Z" fill="none" stroke="#000" stroke-width="1.8"/>
<path d="M192.1,78.0 L202.6,60.0 L213.1,78.0 Z" fill="#ff6600"/>
<rect x="192.1" y="108.9" width="21" height="6.2" fill="#00ffff"/><rect x="199.5" y="101.5" width="6.2" height="21" fill="#00ffff"/>
<rect x="192.1" y="151.9" width="21" height="6.2" fill="#ff0000"/><rect x="199.5" y="144.5" width="6.2" height="21" fill="#ff0000"/>
<rect x="192.1" y="194.9" width="21" height="6.2" fill="#0000ff"/><rect x="199.5" y="187.5" width="6.2" height="21" fill="#0000ff"/>
<circle cx="202.6" cy="240.7" r="9.5" fill="none" stroke="#000" stroke-width="1.8"/>
<path d="M202.6,266.0 L207.5,280.2 L222.6,280.5 L210.6,289.6 L214.9,304.0 L202.6,295.4 L190.3,304.0 L194.6,289.6 L182.6,280.5 L197.7,280.2 Z" fill="#9c6a35"/>
<line x1="141" y1="333.2" x2="264" y2="333.2" stroke="#800000" stroke-width="4" stroke-dasharray="17.5 22.2" stroke-linecap="round"/>
<text x="1049.7" y="36" font-size="29.4">Rayleigh dissolution</text>
<text x="1342" y="36" font-size="29.4">α=1.00075</text>
<line x1="903.4" y1="26.0" x2="1027" y2="26.0" stroke="#ff0000" stroke-width="4" stroke-dasharray="17.5 22.2" stroke-linecap="round"/>
<text x="1049.7" y="79" font-size="29.4">Rayleigh dissolution</text>
<text x="1342" y="79" font-size="29.4">α=1.00045</text>
<line x1="903.4" y1="69.0" x2="1027" y2="69.0" stroke="#ff00ff" stroke-width="4" stroke-dasharray="17.5 22.2" stroke-linecap="round"/>
<text x="1049.7" y="122" font-size="29.4">Batch dissolution</text>
<text x="1344" y="122" font-size="29.4">α=1.00105</text>
<line x1="903.4" y1="112.0" x2="1027" y2="112.0" stroke="#003333" stroke-width="4" stroke-dasharray="10.6 15.65 1.6 15.65" stroke-linecap="round"/>
<text x="1049.7" y="165" font-size="29.4">Batch dissolution</text>
<text x="1344" y="165" font-size="29.4">α=1.00075</text>
<line x1="903.4" y1="155.0" x2="1027" y2="155.0" stroke="#009933" stroke-width="4" stroke-dasharray="10.6 15.65 1.6 15.65" stroke-linecap="round"/>
<text x="1049.7" y="208" font-size="29.4">Batch dissolution</text>
<text x="1344" y="208" font-size="29.4">α=1.00045</text>
<line x1="903.4" y1="198.0" x2="1027" y2="198.0" stroke="#33cc33" stroke-width="4" stroke-dasharray="10.6 15.65 1.6 15.65" stroke-linecap="round"/>
<text x="1049.7" y="251" font-size="29.4" letter-spacing="-0.07">Rayleigh incorporation α=0.99895</text>
<line x1="903.3" y1="240.7" x2="1024" y2="240.7" stroke="#000066" stroke-width="3.8" stroke-dasharray="1.3 4.4" stroke-linecap="round"/>
<text x="1049.7" y="296.6" font-size="29.4" letter-spacing="-0.07">Rayleigh incorporation α=0.99925</text>
<line x1="903.3" y1="286.3" x2="1024" y2="286.3" stroke="#0000ff" stroke-width="3.8" stroke-dasharray="1.3 4.4" stroke-linecap="round"/>
<text x="1049.7" y="342.6" font-size="29.4" letter-spacing="-0.07">Rayleigh incorporation α=0.99955</text>
<line x1="903.3" y1="332.3" x2="1024" y2="332.3" stroke="#1a8cff" stroke-width="3.8" stroke-dasharray="1.3 4.4" stroke-linecap="round"/>
</svg></body></html>
